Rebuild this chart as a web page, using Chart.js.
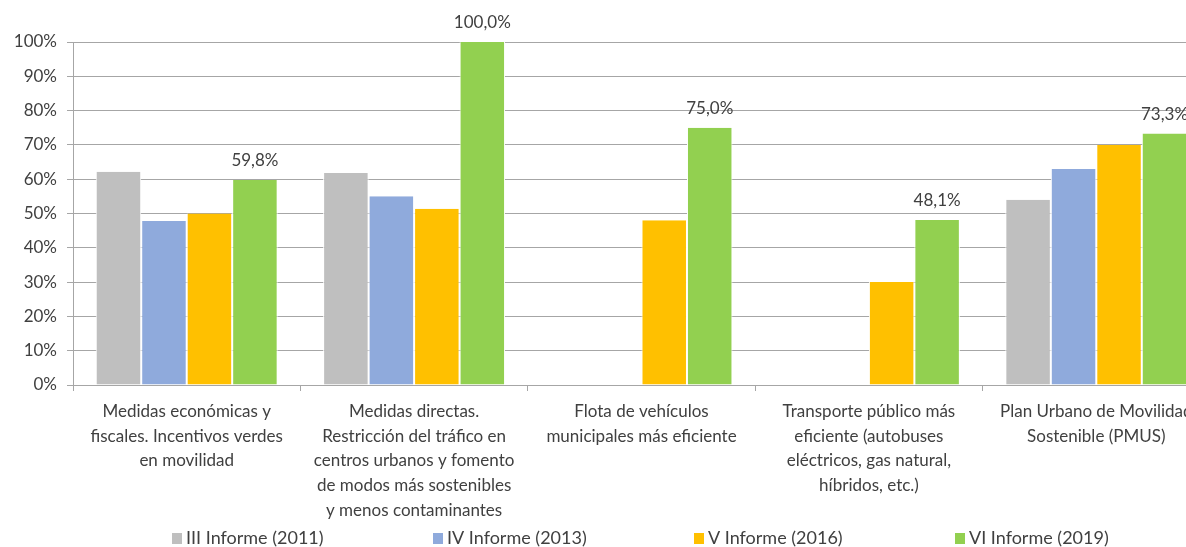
<!DOCTYPE html>
<html lang="es">
<head>
    <meta charset="UTF-8">
    <title>Medidas de movilidad</title>
    <script src="https://cdn.jsdelivr.net/npm/chart.js"></script>
    <style>
        html, body { margin: 0; padding: 0; overflow: hidden; background: #fff; }
        .chart-box { width: 1210px; height: 547px; }
    </style>
</head>
<body>
    <div class="chart-box">
        <canvas id="grafico"></canvas>
    </div>

    <script>
        // Categorías (varias líneas por etiqueta)
        const categorias = [
            ['Medidas económicas y', 'fiscales. Incentivos verdes', 'en movilidad'],
            ['Medidas directas.', 'Restricción del tráfico en', 'centros urbanos y fomento', 'de modos más sostenibles', 'y menos contaminantes'],
            ['Flota de vehículos', 'municipales más eficiente'],
            ['Transporte público más', 'eficiente (autobuses', 'eléctricos, gas natural,', 'híbridos, etc.)'],
            ['Plan Urbano de Movilidad', 'Sostenible (PMUS)']
        ];

        // Valores (%) por informe
        const informe2011 = [62.2, 61.8, null, null, 54.0];
        const informe2013 = [47.8, 55.0, null, null, 63.0];
        const informe2016 = [50.0, 51.4, 48.0, 30.0, 70.0];
        const informe2019 = [59.8, 100.0, 75.0, 48.1, 73.3];

        const nombresSeries = ['III Informe (2011)', 'IV Informe (2013)', 'V Informe (2016)', 'VI Informe (2019)'];
        const colores = ['#bfbfbf', '#8faadc', '#ffc000', '#92d050'];
        const ticksY = [0, 10, 20, 30, 40, 50, 60, 70, 80, 90, 100];

        const fuente = 'Lato, "Liberation Sans", sans-serif';
        const colorTexto = '#404040';
        const tamFuente = 17;

        // Etiquetas de datos solo para la última serie
        const etiquetasPlugin = {
            id: 'etiquetas',
            afterDatasetsDraw(chart) {
                const ctx = chart.ctx;
                const meta = chart.getDatasetMeta(3);
                ctx.save();
                ctx.font = tamFuente + 'px ' + fuente;
                ctx.fillStyle = colorTexto;
                ctx.textAlign = 'center';
                ctx.textBaseline = 'alphabetic';
                meta.data.forEach((bar, i) => {
                    const v = informe2019[i];
                    if (v == null) return;
                    ctx.fillText(v.toFixed(1).replace('.', ',') + '%', bar.x, bar.y - 14);
                });
                ctx.restore();
            }
        };

        // Leyenda con separación fija, estilo Excel
        const leyendaPlugin = {
            id: 'leyenda',
            afterDraw(chart) {
                const ctx = chart.ctx;
                const area = chart.chartArea;
                const yc = chart.height - 9;
                ctx.save();
                ctx.font = '18px ' + fuente;
                ctx.textBaseline = 'middle';
                ctx.textAlign = 'left';
                chart.data.datasets.forEach((ds, i) => {
                    const x = area.left + 99 + i * 261;
                    ctx.fillStyle = ds.backgroundColor;
                    ctx.fillRect(x, yc - 5, 10, 11);
                    ctx.fillStyle = colorTexto;
                    ctx.fillText(ds.label, x + 14, yc);
                });
                ctx.restore();
            }
        };

        const series = [informe2011, informe2013, informe2016, informe2019];

        new Chart(document.getElementById('grafico'), {
            type: 'bar',
            data: {
                labels: categorias,
                datasets: series.map((d, i) => ({
                    label: nombresSeries[i],
                    data: d,
                    backgroundColor: colores[i],
                    borderColor: '#ffffff',
                    borderWidth: { left: 1, right: 1, top: 0 },
                    borderSkipped: false,
                    categoryPercentage: 0.8,
                    barPercentage: 1.0
                }))
            },
            options: {
                responsive: true,
                maintainAspectRatio: false,
                animation: false,
                layout: { padding: { top: 42, left: 0, right: 0, bottom: 27 } },
                plugins: {
                    legend: { display: false },
                    tooltip: { enabled: false }
                },
                scales: {
                    x: {
                        afterFit(scale) { scale.height = 135; },
                        grid: {
                            offset: true,
                            drawOnChartArea: false,
                            drawTicks: true,
                            tickLength: 6,
                            color: '#a6a6a6'
                        },
                        border: { color: '#a6a6a6' },
                        ticks: {
                            maxRotation: 0,
                            autoSkip: false,
                            padding: 8,
                            color: colorTexto,
                            font: { family: fuente, size: tamFuente, lineHeight: 1.456 }
                        }
                    },
                    y: {
                        min: 0,
                        max: 100,
                        afterBuildTicks(scale) {
                            scale.ticks = ticksY.map(v => ({ value: v }));
                        },
                        afterFit(scale) { scale.width = 73; },
                        grid: {
                            color: '#a6a6a6',
                            tickLength: 6
                        },
                        border: { color: '#a6a6a6' },
                        ticks: {
                            padding: 10,
                            color: colorTexto,
                            font: { family: fuente, size: tamFuente },
                            callback: v => v + '%'
                        }
                    }
                }
            },
            plugins: [etiquetasPlugin, leyendaPlugin]
        });
    </script>
</body>
</html>
